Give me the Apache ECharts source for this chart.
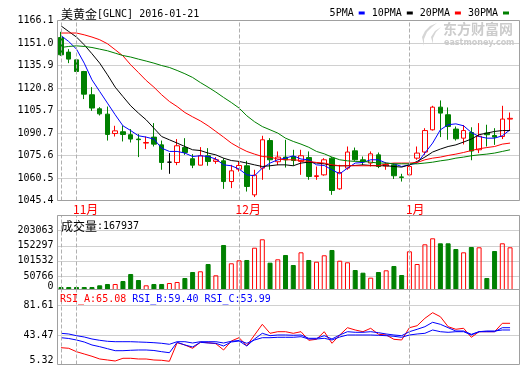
<!DOCTYPE html>
<html><head><meta charset="utf-8">
<script src="https://cdn.jsdelivr.net/npm/echarts@6/dist/echarts.min.js"></script>
<style>html,body{margin:0;padding:0;background:#fff;}#c{width:520px;height:365px;}</style>
</head><body><div id="c"></div>
<script>
const dates = ['2015-10-29','2015-10-30','2015-11-02','2015-11-03','2015-11-04','2015-11-05','2015-11-06','2015-11-09','2015-11-10','2015-11-11','2015-11-12','2015-11-13','2015-11-16','2015-11-17','2015-11-18','2015-11-19','2015-11-20','2015-11-23','2015-11-24','2015-11-25','2015-11-26','2015-11-27','2015-11-30','2015-12-01','2015-12-02','2015-12-03','2015-12-04','2015-12-07','2015-12-08','2015-12-09','2015-12-10','2015-12-11','2015-12-14','2015-12-15','2015-12-16','2015-12-17','2015-12-18','2015-12-21','2015-12-22','2015-12-23','2015-12-24','2015-12-28','2015-12-29','2015-12-30','2015-12-31','2016-01-04','2016-01-05','2016-01-06','2016-01-07','2016-01-08','2016-01-11','2016-01-12','2016-01-13','2016-01-14','2016-01-15','2016-01-18','2016-01-19','2016-01-20','2016-01-21'];
const opens  = [1154.7,1144.9,1139.7,1131.9,1116.3,1106.9,1103.3,1090.3,1091.5,1089.5,1086.6,1083.9,1087.9,1082.7,1071.1,1070.9,1080.9,1073.4,1069.1,1075.4,1071.6,1072.0,1058.1,1066.4,1068.7,1049.2,1067.1,1085.6,1071.4,1074.5,1074.9,1071.6,1074.2,1061.5,1062.6,1073.8,1053.2,1067.1,1078.7,1072.7,1070.5,1076.0,1068.5,1069.3,1061.2,1062.6,1073.8,1077.9,1092.8,1108.0,1102.9,1093.3,1087.2,1091.0,1079.4,1090.6,1089.0,1088.3,1100.0];
const closes = [1143.1,1140.2,1131.9,1116.7,1107.4,1103.5,1089.7,1092.1,1089.7,1086.6,1086.2,1084.3,1083.2,1070.9,1071.1,1082.1,1077.6,1069.1,1075.4,1071.6,1072.7,1058.1,1065.3,1068.9,1054.8,1062.4,1086.1,1072.7,1074.5,1072.7,1072.2,1075.4,1061.5,1062.0,1072.7,1052.1,1064.2,1077.9,1072.7,1071.4,1076.7,1068.2,1069.5,1062.0,1060.9,1068.2,1077.2,1092.3,1108.0,1104.0,1095.0,1086.8,1092.3,1078.6,1088.5,1089.5,1087.9,1100.0,1100.5];
const lows   = [1142.4,1137.5,1131.2,1113.4,1105.5,1102.4,1085.6,1088.3,1085.0,1084.3,1074.5,1079.9,1081.6,1066.0,1063.3,1069.1,1076.0,1067.1,1069.0,1068.7,1070.0,1053.2,1053.7,1064.8,1051.4,1047.7,1059.3,1066.0,1069.1,1067.5,1068.7,1062.6,1059.3,1059.3,1062.0,1049.2,1052.6,1066.0,1072.0,1069.3,1068.2,1067.1,1066.0,1059.8,1058.1,1062.0,1072.7,1076.0,1092.3,1087.9,1086.1,1085.6,1083.0,1072.4,1077.2,1081.6,1082.7,1086.6,1092.3];
const highs  = [1158.5,1146.9,1140.2,1132.3,1121.4,1108.0,1108.4,1095.5,1095.7,1093.3,1089.9,1088.3,1097.3,1085.6,1077.2,1086.6,1087.2,1076.5,1081.2,1080.5,1074.5,1073.8,1069.3,1071.6,1072.0,1066.0,1088.8,1087.2,1078.3,1086.1,1079.4,1079.4,1078.3,1068.2,1073.8,1074.5,1069.3,1081.6,1080.9,1074.9,1078.3,1077.6,1071.0,1070.5,1063.3,1070.9,1081.6,1093.9,1108.9,1112.5,1107.8,1095.0,1096.0,1094.5,1097.3,1096.2,1093.9,1108.9,1104.4];
const ma5  = [1156.0,1152.0,1146.9,1137.5,1126.3,1118.5,1110.7,1102.9,1095.5,1092.3,1088.8,1087.9,1086.6,1080.5,1078.3,1078.3,1077.2,1074.9,1075.4,1074.9,1073.2,1069.3,1068.7,1066.5,1062.6,1062.0,1067.1,1070.5,1072.7,1073.8,1075.4,1073.2,1072.7,1069.3,1068.9,1066.0,1063.3,1067.1,1070.5,1070.9,1072.7,1072.7,1070.5,1070.0,1068.2,1069.3,1070.5,1077.2,1083.9,1092.8,1096.2,1096.8,1095.5,1091.0,1088.3,1087.2,1087.2,1088.8,1092.8];
const ma10 = [1162.5,1158.7,1155.0,1149.8,1143.8,1137.5,1129.7,1121.4,1115.1,1108.9,1104.0,1099.5,1093.9,1088.3,1086.1,1083.9,1081.6,1079.4,1078.9,1077.2,1076.0,1073.8,1072.2,1071.6,1070.5,1069.3,1068.2,1068.7,1069.3,1069.3,1068.7,1070.5,1071.1,1070.5,1070.0,1068.9,1068.7,1068.7,1068.9,1069.3,1068.9,1068.7,1068.7,1068.2,1067.8,1069.3,1071.6,1074.5,1077.9,1079.9,1081.6,1082.7,1084.6,1086.6,1089.5,1090.6,1091.7,1092.3,1092.3];
const ma20 = [1157.7,1157.7,1157.7,1156.5,1155.0,1153.2,1150.5,1146.5,1142.4,1136.4,1131.2,1125.9,1121.4,1116.3,1111.8,1108.4,1104.4,1101.5,1098.8,1095.5,1091.7,1087.9,1083.9,1080.9,1078.3,1076.5,1074.9,1074.5,1073.2,1072.7,1072.7,1072.2,1071.6,1070.9,1070.5,1069.3,1068.7,1068.7,1068.7,1068.7,1068.7,1068.7,1070.0,1070.5,1070.5,1070.5,1070.9,1072.7,1073.8,1074.5,1075.6,1076.5,1077.6,1078.9,1080.1,1080.9,1081.6,1083.2,1083.9];
const ma30 = [1148.0,1148.7,1149.1,1148.7,1148.0,1146.9,1145.8,1144.2,1142.6,1141.6,1140.2,1138.9,1137.5,1135.9,1134.6,1132.6,1130.4,1127.9,1124.5,1121.4,1118.1,1114.5,1111.1,1107.4,1102.2,1098.2,1095.0,1092.8,1090.6,1087.2,1085.0,1083.2,1081.1,1078.3,1076.7,1074.5,1072.7,1072.0,1071.6,1071.6,1071.1,1070.5,1070.5,1070.0,1070.0,1070.0,1070.0,1070.5,1071.1,1072.0,1072.7,1073.8,1074.5,1075.4,1076.0,1076.5,1077.2,1078.3,1079.4];
const volumes = [13800,13800,13800,13800,13800,19500,23900,23900,34000,57500,37300,19500,23900,23900,27200,30600,44000,64200,66600,91100,53100,155000,93500,103500,104600,145900,174200,95500,106900,121400,87700,130400,104600,98800,120400,138200,102200,96800,70900,61900,45100,64200,69900,84400,54100,133800,91100,157300,177500,160700,160700,141500,130400,148300,147300,44000,134800,160700,147300];
const rsiA = [28.21,27.45,23.13,20.21,17.28,13.85,12.58,11.31,14.74,14.74,13.85,13.85,12.58,12.20,10.92,34.57,31.65,27.45,35.08,34.57,33.30,25.29,36.73,40.93,30.76,44.36,57.96,46.52,48.56,48.56,46.52,48.56,37.62,38.89,48.56,33.81,44.36,53.64,50.72,48.56,52.88,45.25,44.36,38.89,38.00,53.64,56.18,65.59,72.71,67.62,54.91,51.61,52.88,41.44,48.56,48.56,48.56,59.23,59.23];
const rsiB = [40.93,39.91,38.00,35.46,31.65,29.49,26.94,24.40,24.40,24.91,25.29,25.29,24.65,23.13,21.86,35.08,31.65,29.10,35.08,34.19,33.81,30.38,35.46,36.73,30.38,39.27,46.52,43.47,44.36,44.36,43.98,44.36,40.16,40.16,43.47,39.27,44.36,48.56,47.79,47.79,48.56,47.28,45.63,44.36,43.47,48.56,51.61,54.91,60.51,57.96,53.64,49.45,49.45,45.25,48.56,48.56,48.56,53.64,53.64];
const rsiC = [46.52,45.63,43.47,41.82,39.27,37.62,36.35,35.84,35.84,35.84,35.46,35.08,34.57,33.81,32.54,35.84,35.84,34.19,35.84,35.84,35.84,34.19,36.35,37.37,33.81,38.00,40.93,40.93,41.44,41.44,41.44,42.20,39.27,39.27,40.16,38.00,41.82,44.36,44.36,44.36,44.36,43.98,43.47,42.71,41.44,44.36,45.63,46.52,50.72,48.56,47.79,48.56,48.56,44.36,48.56,49.45,49.45,50.72,50.72];
const priceTicks = ['1045.4','1060.5','1075.6','1090.7','1105.7','1120.8','1135.9','1151.0','1166.1'];
const volTicks = ['0','50766','101532','152297','203063'];
const rsiTicks = ['5.32','43.47','81.61'];
const monthLineIdx = [0, 2, 23, 45];
const monthLabelIdx = [2, 23, 45];
const monthLabels = ['11月','12月','1月'];
const titleName = '美黄金';
const titleCode = '[GLNC] 2016-01-21';
const volName = '成交量';
const volValue = ':167937';
const rsiLabels = ['RSI_A:65.08','RSI_B:59.40','RSI_C:53.99'];

const MONO = '"DejaVu Sans Mono", monospace';
const CJK = '"Noto Sans CJK SC", sans-serif';
const RED = '#ff0000', GREEN = '#008000', BLUE = '#0000ff';
const GRIDC = '#d0d0d0', BORDERC = '#a0a0a0';

const chart = echarts.init(document.getElementById('c'), null, {renderer: 'canvas'});

function monthMark() {
  return {
    silent: true, symbol: ['none', 'none'], animation: false,
    label: {show: false},
    lineStyle: {color: '#b0b0b0', type: 'dashed', width: 1},
    data: monthLineIdx.map(i => ({xAxis: i}))
  };
}

function frameY(gridIndex, max, labels, shift) {
  return {
    type: 'value', gridIndex, min: 0, max, interval: 1,
    axisLine: {show: false}, axisTick: {show: false},
    splitLine: {show: true, showMinLine: shift ? false : true, lineStyle: {color: GRIDC, width: 1}},
    axisLabel: {
      showMinLabel: true, showMaxLabel: true, margin: 4,
      fontFamily: MONO, fontSize: 10, color: '#000',
      formatter: v => {
        const k = Math.round(v);
        if (Math.abs(v - k) > 1e-6 || k >= labels.length) return '';
        return (k === 0 && shift) ? '{lo|' + labels[0] + '}' : labels[k];
      },
      rich: {lo: {padding: [0, 0, shift, 0], fontFamily: MONO, fontSize: 10, color: '#000'}}
    }
  };
}

function dataX(gridIndex, withLabels) {
  return {
    type: 'category', gridIndex, data: dates, boundaryGap: true,
    axisLine: {show: false}, axisTick: {show: false},
    splitLine: {show: false},
    axisLabel: withLabels ? {
      show: true, interval: (i) => monthLabelIdx.includes(i), margin: 3,
      formatter: (v, i) => '{m|' + monthLabels[monthLabelIdx.indexOf(i)] + '}',
      color: RED, fontFamily: CJK, fontSize: 12, align: 'center',
      rich: {m: {width: 7, align: 'left', color: RED, fontFamily: CJK, fontSize: 12}}
    } : {show: false}
  };
}

const DL = 57.13, DW = 456.8;
const option = {
  animation: false,
  backgroundColor: '#ffffff',
  title: [
    {left: 61, top: 8, padding: 0, text: '{cn|' + titleName + '}{en|' + titleCode + '}',
     textStyle: {fontWeight: 'normal', rich: {cn: {fontFamily: CJK, fontSize: 12, color: '#000'}, en: {fontFamily: MONO, fontSize: 10, color: '#000'}}}},
    {left: 61, top: 220, padding: 0, text: '{cn|' + volName + '}{en|' + volValue + '}',
     textStyle: {fontWeight: 'normal', rich: {cn: {fontFamily: CJK, fontSize: 12, color: '#000'}, en: {fontFamily: MONO, fontSize: 10, color: '#000'}}}},
    {left: 60, top: 294, padding: 0, text: '{a|' + rsiLabels[0] + '} {b|' + rsiLabels[1] + '} {c|' + rsiLabels[2] + '}',
     textStyle: {fontWeight: 'normal', fontFamily: MONO, fontSize: 10, rich: {a: {fontFamily: MONO, fontSize: 10, color: RED}, b: {fontFamily: MONO, fontSize: 10, color: BLUE}, c: {fontFamily: MONO, fontSize: 10, color: BLUE}}}}
  ],
  legend: {
    data: ['5PMA','10PMA','20PMA','30PMA'], right: 11, top: 8, align: 'right',
    itemWidth: 6, itemHeight: 3, itemGap: 7, icon: 'rect', selectedMode: false, padding: 0,
    textStyle: {fontFamily: MONO, fontSize: 10, color: '#000'}
  },
  grid: [
    {left: DL, top: 20.5, width: DW, height: 180, show: false},
    {left: DL, top: 215.5, width: DW, height: 74, show: false},
    {left: DL, top: 289.5, width: DW, height: 75, show: false},
    {left: 57.5, top: 20.5, width: 462, height: 180, show: false},
    {left: 57.5, top: 215.5, width: 462, height: 75.6, show: false},
    {left: 57.5, top: 289.5, width: 462, height: 76.2, show: false}
  ],
  xAxis: [
    dataX(0, true), dataX(1, false), dataX(2, false),
    {type: 'value', gridIndex: 3, min: 0, max: 1, show: false},
    {type: 'value', gridIndex: 4, min: 0, max: 1, show: false},
    {type: 'value', gridIndex: 5, min: 0, max: 1, show: false}
  ],
  yAxis: [
    {type: 'value', gridIndex: 0, min: 1045.4, max: 1166.1, show: false},
    {type: 'value', gridIndex: 1, min: 5379, max: 254164, show: false},
    {type: 'value', gridIndex: 2, min: 6.846, max: 102.21, show: false},
    frameY(3, 8, priceTicks, 0),
    frameY(4, 5.0066, volTicks, 10),
    frameY(5, 2.54, rsiTicks, 10)
  ],
  graphic: [
    {type: 'rect', z: 100, silent: true, shape: {x: 57.5, y: 20.5, width: 462, height: 180}, style: {fill: 'none', stroke: BORDERC, lineWidth: 1}},
    {type: 'rect', z: 100, silent: true, shape: {x: 57.5, y: 215.5, width: 462, height: 74}, style: {fill: 'none', stroke: BORDERC, lineWidth: 1}},
    {type: 'rect', z: 100, silent: true, shape: {x: 57.5, y: 289.5, width: 462, height: 75}, style: {fill: 'none', stroke: BORDERC, lineWidth: 1}},
    {type: 'polygon', z: 1, silent: true, shape: {points: [[437,23],[430,26],[425,31],[422,37],[424,46],[424,39],[427,32],[432,27]]}, style: {fill: '#d6d6d6'}},
    {type: 'polygon', z: 1, silent: true, shape: {points: [[441,27],[435,31],[431,37],[433,44],[433,38],[436,32]]}, style: {fill: '#d6d6d6'}},
    {type: 'text', z: 1, silent: true, x: 443, y: 22, style: {text: '东方财富网', fill: '#cccccc', fontFamily: CJK, fontSize: 14, fontWeight: 'bold', verticalAlign: 'top'}},
    {type: 'text', z: 1, silent: true, x: 444, y: 39, style: {text: 'eastmoney.com', fill: '#cccccc', fontFamily: '"DejaVu Sans", sans-serif', fontSize: 8, fontWeight: 'bold', verticalAlign: 'top'}}
  ],
  series: [
    {type: 'candlestick', name: 'K', xAxisIndex: 0, yAxisIndex: 0, barWidth: 5,
     data: opens.map((o, i) => [o, closes[i], lows[i], highs[i]]),
     itemStyle: {color: 'transparent', color0: GREEN, borderColor: RED, borderColor0: GREEN, borderColorDoji: '#000000', borderWidth: 1},
     markLine: monthMark()},
    {type: 'line', name: '5PMA', xAxisIndex: 0, yAxisIndex: 0, data: ma5, symbol: 'none', lineStyle: {width: 1, color: BLUE}, itemStyle: {color: BLUE}},
    {type: 'line', name: '10PMA', xAxisIndex: 0, yAxisIndex: 0, data: ma10, symbol: 'none', lineStyle: {width: 1, color: '#000'}, itemStyle: {color: '#000'}},
    {type: 'line', name: '20PMA', xAxisIndex: 0, yAxisIndex: 0, data: ma20, symbol: 'none', lineStyle: {width: 1, color: RED}, itemStyle: {color: RED}},
    {type: 'line', name: '30PMA', xAxisIndex: 0, yAxisIndex: 0, data: ma30, symbol: 'none', lineStyle: {width: 1, color: GREEN}, itemStyle: {color: GREEN}},
    {type: 'bar', name: 'VOL', xAxisIndex: 1, yAxisIndex: 1, barWidth: 5,
     data: volumes.map((v, i) => ({value: v, itemStyle: closes[i] >= opens[i]
        ? {color: 'transparent', borderColor: RED, borderWidth: 1}
        : {color: GREEN, borderColor: GREEN, borderWidth: 1}})),
     markLine: monthMark()},
    {type: 'line', name: 'RSI_A', xAxisIndex: 2, yAxisIndex: 2, data: rsiA, symbol: 'none', lineStyle: {width: 1, color: RED}, markLine: monthMark()},
    {type: 'line', name: 'RSI_B', xAxisIndex: 2, yAxisIndex: 2, data: rsiB, symbol: 'none', lineStyle: {width: 1, color: BLUE}},
    {type: 'line', name: 'RSI_C', xAxisIndex: 2, yAxisIndex: 2, data: rsiC, symbol: 'none', lineStyle: {width: 1, color: BLUE}}
  ]
};
chart.setOption(option);
</script></body></html>
